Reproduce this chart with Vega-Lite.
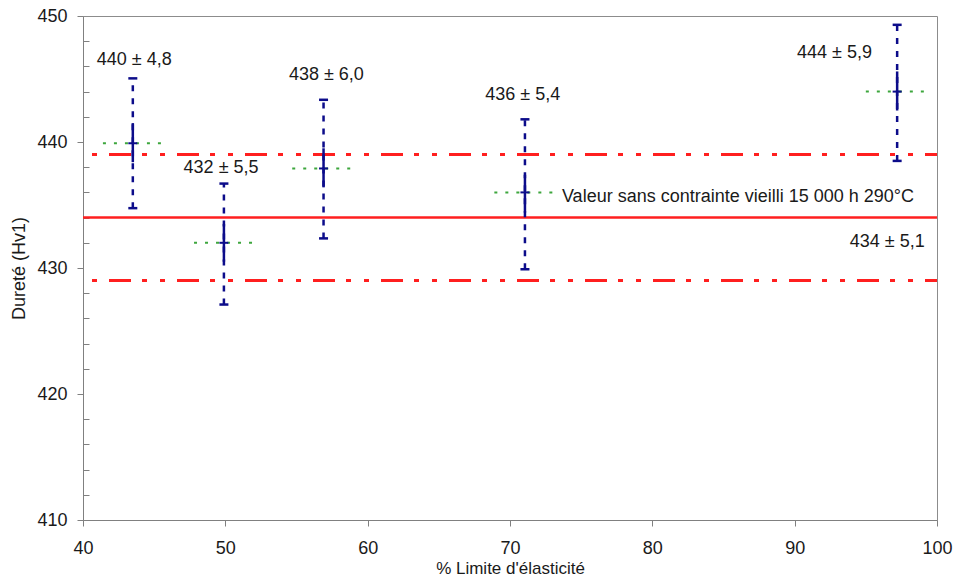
{
  "$schema": "https://vega.github.io/schema/vega-lite/v6.json",
  "width": 854,
  "height": 504,
  "autosize": {"type": "none"},
  "padding": {"left": 83, "top": 16, "right": 20, "bottom": 58},
  "background": "white",
  "config": {
    "view": {"stroke": "#8c8c8c", "strokeWidth": 1},
    "font": "Liberation Sans",
    "axis": {
      "domainColor": "#808080",
      "tickColor": "#808080",
      "labelColor": "#1a1a1a",
      "titleColor": "#1a1a1a",
      "labelFont": "Liberation Sans",
      "titleFont": "Liberation Sans",
      "labelFontSize": 18,
      "titleFontSize": 17,
      "titleFontWeight": "normal",
      "labelOverlap": false,
      "labelFlush": false,
      "grid": false
    }
  },
  "datasets": {
    "pts": [
      {"pct": 43.5, "mean": 439.9, "lo": 434.75, "hi": 445.05, "slo": 438.4, "shi": 441.5, "glo": 41.4, "ghi": 45.5},
      {"pct": 49.9, "mean": 432.0, "lo": 427.1, "hi": 436.7, "slo": 430.5, "shi": 433.5, "glo": 47.8, "ghi": 52.2},
      {"pct": 56.9, "mean": 437.9, "lo": 432.35, "hi": 443.35, "slo": 436.4, "shi": 439.5, "glo": 54.7, "ghi": 59.1},
      {"pct": 71.05, "mean": 436.0, "lo": 429.9, "hi": 441.8, "slo": 434.4, "shi": 437.4, "glo": 68.9, "ghi": 73.2},
      {"pct": 97.2, "mean": 444.0, "lo": 438.5, "hi": 449.3, "slo": 442.5, "shi": 445.6, "glo": 95.0, "ghi": 99.4}
    ],
    "refSolid": [{"v": 434}],
    "refDash": [{"v": 439}, {"v": 429}],
    "labelsC": [
      {"x": 43.6, "y": 446.5, "t": "440 ± 4,8"},
      {"x": 49.7, "y": 437.9, "t": "432 ± 5,5"},
      {"x": 57.1, "y": 445.3, "t": "438 ± 6,0"},
      {"x": 70.9, "y": 443.7, "t": "436 ± 5,4"},
      {"x": 92.8, "y": 447.1, "t": "444 ± 5,9"},
      {"x": 96.5, "y": 432.1, "t": "434 ± 5,1"}
    ],
    "labelsL": [
      {"x": 73.65, "y": 435.66, "t": "Valeur sans contrainte vieilli 15 000 h 290°C"}
    ]
  },
  "layer": [
    {
      "data": {"name": "refSolid"},
      "mark": {"type": "rule", "color": "#ff1f1f", "strokeWidth": 2.5},
      "encoding": {
        "y": {
          "field": "v", "type": "quantitative",
          "scale": {"domain": [410, 450], "nice": false, "zero": false},
          "axis": {
            "values": [410, 412, 414, 416, 418, 420, 422, 424, 426, 428, 430, 432, 434, 436, 438, 440, 442, 444, 446, 448, 450],
            "tickCount": 30,
            "labelExpr": "datum.value % 10 === 0 ? datum.label : ''",
            "labelOverlap": false,
            "tickSize": {"condition": {"test": "datum.value % 10 === 0", "value": 6}, "value": -6},
            "labelPadding": 10,
            "title": "Dureté (Hv1)",
            "titleFontSize": 18,
            "titleAngle": -90,
            "titleX": -64,
            "titleY": 252,
            "titleAlign": "center",
            "titleBaseline": "middle"
          }
        }
      }
    },
    {
      "data": {"name": "refDash"},
      "mark": {"type": "rule", "color": "#ff1f1f", "strokeWidth": 3, "strokeDash": [22, 12, 5, 13, 5, 11], "strokeDashOffset": 10},
      "encoding": {"y": {"field": "v", "type": "quantitative"}}
    },
    {
      "data": {"name": "pts"},
      "mark": {"type": "rule", "color": "#3da63d", "strokeWidth": 2, "strokeDash": [3, 8]},
      "encoding": {
        "x": {
          "field": "glo", "type": "quantitative",
          "scale": {"domain": [40, 100], "nice": false, "zero": false},
          "axis": {
            "values": [40, 50, 60, 70, 80, 90, 100],
            "tickCount": 10,
            "tickSize": 6,
            "labelOverlap": false,
            "labelBaseline": "alphabetic",
            "labelPadding": 27,
            "title": "% Limite d'élasticité",
            "titleX": 427,
            "titleY": 53,
            "titleAlign": "center",
            "titleBaseline": "alphabetic"
          }
        },
        "x2": {"field": "ghi"},
        "y": {"field": "mean", "type": "quantitative"}
      }
    },
    {
      "data": {"name": "pts"},
      "mark": {"type": "rule", "color": "#0c0c8a", "strokeWidth": 2.5, "strokeDash": [6, 7]},
      "encoding": {
        "x": {"field": "pct", "type": "quantitative"},
        "y": {"field": "lo", "type": "quantitative"},
        "y2": {"field": "hi"}
      }
    },
    {
      "data": {"name": "pts"},
      "mark": {"type": "rule", "color": "#0c0c8a", "strokeWidth": 2.5},
      "encoding": {
        "x": {"field": "pct", "type": "quantitative"},
        "y": {"field": "slo", "type": "quantitative"},
        "y2": {"field": "shi"}
      }
    },
    {
      "data": {"name": "pts"},
      "mark": {"type": "tick", "orient": "horizontal", "color": "#0c0c8a", "size": 9, "thickness": 2.5, "opacity": 1},
      "encoding": {
        "x": {"field": "pct", "type": "quantitative"},
        "y": {"field": "lo", "type": "quantitative"}
      }
    },
    {
      "data": {"name": "pts"},
      "mark": {"type": "tick", "orient": "horizontal", "color": "#0c0c8a", "size": 9, "thickness": 2.5, "opacity": 1},
      "encoding": {
        "x": {"field": "pct", "type": "quantitative"},
        "y": {"field": "hi", "type": "quantitative"}
      }
    },
    {
      "data": {"name": "pts"},
      "mark": {"type": "tick", "orient": "horizontal", "color": "#0c0c8a", "size": 9, "thickness": 2, "opacity": 1},
      "encoding": {
        "x": {"field": "pct", "type": "quantitative"},
        "y": {"field": "mean", "type": "quantitative"}
      }
    },
    {
      "data": {"name": "labelsC"},
      "mark": {"type": "text", "font": "Liberation Sans", "fontSize": 18, "color": "#1a1a1a", "align": "center", "baseline": "middle"},
      "encoding": {
        "x": {"field": "x", "type": "quantitative"},
        "y": {"field": "y", "type": "quantitative"},
        "text": {"field": "t"}
      }
    },
    {
      "data": {"name": "labelsL"},
      "mark": {"type": "text", "font": "Liberation Sans", "fontSize": 18, "color": "#1a1a1a", "align": "left", "baseline": "middle"},
      "encoding": {
        "x": {"field": "x", "type": "quantitative"},
        "y": {"field": "y", "type": "quantitative"},
        "text": {"field": "t"}
      }
    }
  ]
}
